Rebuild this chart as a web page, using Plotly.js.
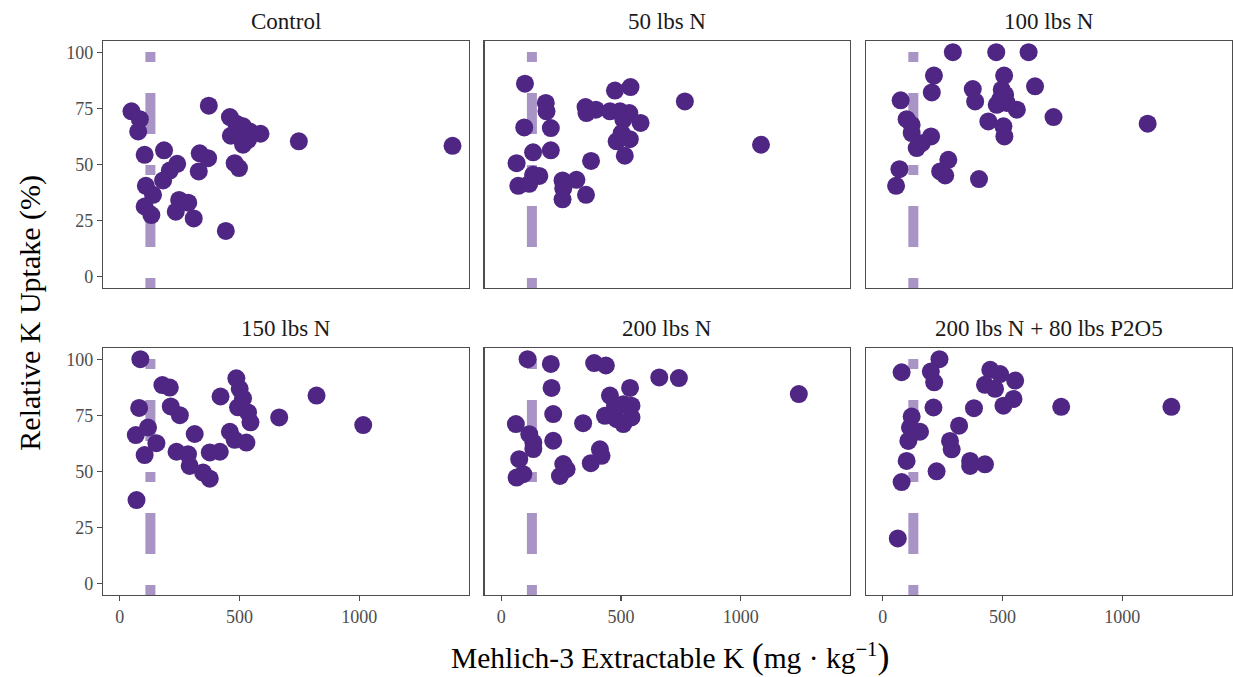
<!DOCTYPE html>
<html>
<head>
<meta charset="utf-8">
<script src="https://cdn.plot.ly/plotly-3.0.1.min.js"></script>
<style>html,body{margin:0;padding:0;background:#fff;}#chart{width:1233px;height:677px;}</style>
</head>
<body>
<div id="chart"></div>
<script>
// ---- data ----
const panelTitles = ["Control", "50 lbs N", "100 lbs N", "150 lbs N", "200 lbs N", "200 lbs N + 80 lbs P2O5"];

const controlK = [49, 84, 77, 372, 104, 185, 460, 487, 515, 543, 588, 464, 501, 536, 515, 748, 1390, 334, 369, 330, 240, 209, 181, 480, 498, 109, 139, 104, 132, 248, 286, 234, 309, 443];
const controlUptake = [73.7, 70.2, 64.7, 76.2, 54.3, 56.3, 71.1, 68.2, 67, 64.7, 63.7, 62.8, 62.2, 61, 58.8, 60.3, 58.3, 55, 52.8, 46.9, 50.3, 47.3, 42.9, 50.6, 48.4, 40.5, 36.5, 31.3, 27.5, 34.2, 33, 29, 26, 20.4];

const n50K = [99, 186, 189, 96, 207, 133, 207, 64, 133, 159, 71, 117, 375, 256, 314, 259, 256, 354, 352, 356, 395, 454, 475, 540, 496, 535, 582, 510, 482, 537, 516, 503, 767, 1085];
const n50Uptake = [86, 77.4, 73.7, 66.5, 66.2, 55.4, 56.3, 50.6, 45.4, 44.9, 40.5, 41.4, 51.6, 42.9, 43.2, 39.4, 34.5, 36.5, 75.6, 72.9, 74.4, 73.7, 82.9, 84.5, 73.7, 72.9, 68.5, 70, 60.3, 61.3, 53.9, 64, 78.1, 58.8];

const n100K = [293, 474, 609, 214, 205, 75, 507, 636, 376, 386, 497, 511, 476, 560, 441, 504, 508, 713, 1106, 100, 121, 121, 202, 142, 163, 70, 56, 274, 240, 261, 402, 518, 490];
const n100Uptake = [100, 100, 100, 89.6, 82.1, 78.6, 89.6, 84.8, 83.6, 78.1, 83.3, 81.1, 76.6, 74.4, 69.2, 67, 62.5, 71.1, 68.2, 70.2, 67.7, 64, 62.5, 57.3, 59.5, 47.9, 40.5, 52.1, 46.9, 45.1, 43.5, 77.4, 78.9];

const n150K = [86, 178, 209, 81, 213, 251, 67, 118, 153, 104, 237, 313, 292, 348, 376, 376, 418, 70, 421, 487, 501, 515, 494, 536, 546, 460, 480, 529, 666, 822, 1017, 285];
const n150Uptake = [100, 88.5, 87.4, 78.3, 79, 75.1, 66.2, 69.6, 62.6, 57.3, 58.8, 66.7, 52.5, 49.5, 46.8, 58.5, 58.8, 37.3, 83.4, 91.5, 86.8, 82.6, 78.6, 76.3, 71.9, 67.7, 64.1, 62.9, 74.1, 83.8, 70.7, 57.7];

const n200K = [110, 207, 388, 437, 660, 742, 1243, 210, 538, 454, 510, 544, 433, 482, 510, 544, 217, 342, 61, 117, 134, 134, 217, 75, 64, 92, 259, 273, 245, 412, 419, 374, 475];
const n200Uptake = [100, 97.9, 98.3, 97.2, 91.9, 91.6, 84.5, 87.2, 87.2, 83.8, 80, 79.3, 74.8, 73.3, 71.1, 74.1, 75.6, 71.5, 71.1, 66.6, 62.9, 60, 63.7, 55.5, 47.3, 48.8, 53.3, 51, 48, 59.9, 57, 53.7, 79.3];

const n200pK = [237, 201, 215, 79, 449, 490, 553, 427, 469, 546, 504, 212, 381, 745, 1205, 121, 156, 114, 107, 319, 281, 288, 100, 79, 225, 365, 427, 63, 365];
const n200pUptake = [100, 94.5, 89.7, 94.2, 95.3, 93.4, 90.5, 88.6, 86.8, 82.3, 79.3, 78.5, 78.2, 78.8, 78.8, 74.5, 67.7, 69.6, 63.6, 70.4, 63.6, 59.9, 54.7, 45.3, 50.1, 54.7, 53.2, 20.2, 52.5];

const criticalK = 128;
const xTicks = [0, 500, 1000];
const yTicks = [0, 25, 50, 75, 100];

// ---- build ----
const xs = [controlK, n50K, n100K, n150K, n200K, n200pK];
const ys = [controlUptake, n50Uptake, n100Uptake, n150Uptake, n200Uptake, n200pUptake];

const FONT = "Liberation Serif, Times New Roman, serif";
const PURPLE = "#4f2683";
const LINEPURPLE = "#a994c6";
const BORDER = "#4d4d4d";

const W = 1233, H = 677;
const L = 103.3, R = 1232, T = 41, B = 595;
const pw = R - L, ph = B - T;
const colPx = [[103.3, 469], [484.7, 850.4], [866, 1232]];
const rowPx = [[41, 288], [348, 595]];

const traces = [];
const layout = {
  width: W, height: H,
  margin: {l: L, r: W - R, t: T, b: H - B, pad: 0},
  paper_bgcolor: "#fff", plot_bgcolor: "#fff",
  showlegend: false,
  font: {family: FONT, color: "#000"},
  shapes: [], annotations: []
};

for (let i = 0; i < 6; i++) {
  const r = Math.floor(i / 3), c = i % 3;
  const sfx = i === 0 ? "" : String(i + 1);
  const xa = "xaxis" + sfx, ya = "yaxis" + sfx;
  const xr = "x" + sfx, yr = "y" + sfx;
  const bottom = r === 1, left = c === 0;
  layout[xa] = {
    domain: [(colPx[c][0] - L) / pw, (colPx[c][1] - L) / pw],
    anchor: yr, range: [-70, 1458],
    tickvals: xTicks, ticktext: xTicks.map(String),
    showticklabels: bottom, ticks: bottom ? "outside" : "", ticklen: 5, tickwidth: 1.2, tickcolor: BORDER,
    tickfont: {family: FONT, size: 18, color: "#4d4d4d"},
    showgrid: false, zeroline: false,
    showline: true, mirror: true, linecolor: BORDER, linewidth: 1.2
  };
  layout[ya] = {
    domain: [(B - rowPx[r][1]) / ph, (B - rowPx[r][0]) / ph],
    anchor: xr, range: [-5, 105],
    tickvals: yTicks, ticktext: yTicks.map(String),
    showticklabels: left, ticks: left ? "outside" : "", ticklen: 5, tickwidth: 1.2, tickcolor: BORDER,
    tickfont: {family: FONT, size: 18, color: "#4d4d4d"},
    showgrid: false, zeroline: false,
    showline: true, mirror: true, linecolor: BORDER, linewidth: 1.2
  };
  layout.shapes.push({
    type: "line", layer: "below", xref: xr, yref: yr + " domain",
    x0: criticalK, x1: criticalK, y0: 0, y1: 1,
    line: {color: LINEPURPLE, width: 10, dash: "10px,31px,41px,31px"}
  });
  traces.push({
    type: "scatter", mode: "markers", x: xs[i], y: ys[i], xaxis: xr, yaxis: yr,
    marker: {size: 18, color: PURPLE, line: {width: 0}},
    hoverinfo: "x+y"
  });
  layout.annotations.push({
    text: panelTitles[i], xref: xr + " domain", yref: yr + " domain",
    x: 0.5, y: 1, xanchor: "center", yanchor: "bottom", yshift: 5, showarrow: false,
    font: {family: FONT, size: 23, color: "#1a1a1a"}
  });
}

layout.annotations.push({
  text: "Relative K Uptake (%)", xref: "paper", yref: "paper",
  x: (30 - L) / pw, y: (B - 313) / ph, xanchor: "center", yanchor: "middle",
  textangle: -90, showarrow: false, font: {family: FONT, size: 30, color: "#000"}
});
layout.annotations.push({
  text: "Mehlich-3 Extractable K <span style=\"font-size:36px\">(</span>mg · kg<sup>−1</sup><span style=\"font-size:36px\">)</span>",
  xref: "paper", yref: "paper",
  x: (670 - L) / pw, y: (B - 656) / ph, xanchor: "center", yanchor: "middle",
  showarrow: false, font: {family: FONT, size: 29.5, color: "#000"}
});

Plotly.newPlot("chart", traces, layout, {displayModeBar: false, staticPlot: true});
</script>
</body>
</html>
